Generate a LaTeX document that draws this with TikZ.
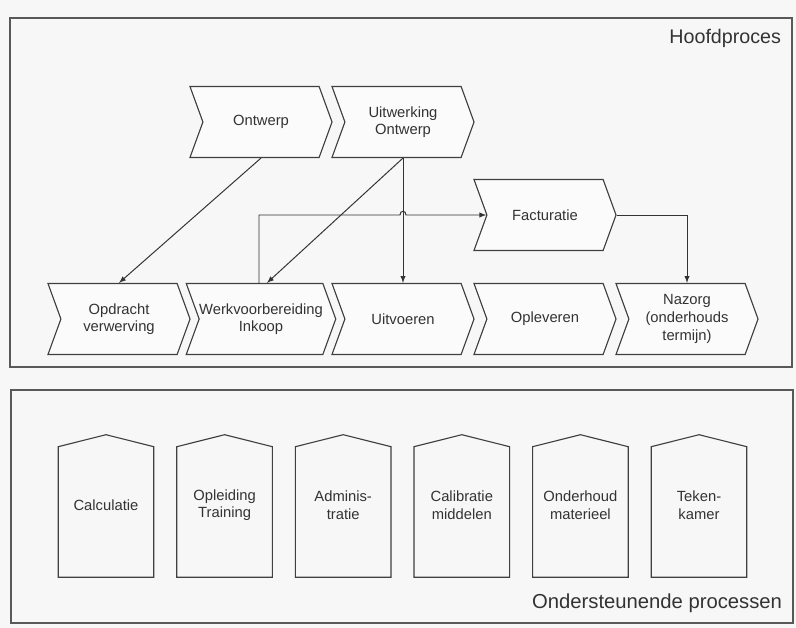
\documentclass[tikz,border=0pt]{standalone}
\usepackage{fontspec}
\setmainfont{Liberation Sans}
\usetikzlibrary{shapes.symbols,arrows,positioning,calc}

\begin{document}
\begin{tikzpicture}[
    x=0.025cm, y=-0.025cm,
    frame/.style={draw=black!65, line width=1.3pt},
    stap/.style={signal, signal from=west, signal to=east, signal pointer angle=140, draw=black!75, fill=gray!3, line width=0.8pt, minimum width=3.55cm, minimum height=1.775cm, inner sep=0pt, align=center, font=\fontsize{10.5}{12.5}\selectfont, text=black!80},
    steun/.style={minimum width=2.375cm, minimum height=2.9cm, inner sep=0pt, align=center, font=\fontsize{10.5}{12.5}\selectfont, text=black!80},
    huis/.style={draw=black!75, line width=0.8pt},
    pijl/.style={-latex, draw=black!80, line width=0.7pt},
    kop/.style={anchor=east, text=black!80}
]
    % Achtergrond en kaders
    \fill[gray!6] (0,0) rectangle (796,628);
    \draw[frame] (10,18) rectangle (792,367);
    \draw[frame] (11,390) rectangle (793,623);
    \node[kop, font=\fontsize{14}{16}\selectfont] (hoofd) at (786,38) {Hoofdproces};
    \node[kop, font=\fontsize{14.4}{16}\selectfont] (onder) at (787,603) {Ondersteunende processen};

    % Hoofdproces: bovenste rij
    \node[stap] (ontwerp) at (261,122) {Ontwerp};
    \node[stap] (uitwerking) at (403,122) {Uitwerking\\Ontwerp};
    \node[stap] (factuur) at (545,215) {Facturatie};

    % Hoofdproces: onderste rij
    \node[stap] (opdracht) at (119,319) {Opdracht\\verwerving};
    \node[stap] (werkvb) at (261,319) {Werkvoorbereiding\\Inkoop};
    \node[stap] (uitvoeren) at (403,319) {Uitvoeren};
    \node[stap] (opleveren) at (545,319) {Opleveren};
    \node[stap] (nazorg) at (687,319) {Nazorg\\(onderhouds\\termijn)};

    % Ondersteunende processen
    \foreach \nm/\tekst [count=\i from 0] in {calc/Calculatie, opleiding/{Opleiding\\Training}, admin/{Adminis-\\tratie}, calib/{Calibratie\\middelen}, onderhoud/{Onderhoud\\materieel}, teken/{Teken-\\kamer}} {
        \node[steun] (\nm) at (106+118.6*\i,505) {\tekst};
        \draw[huis] ($(\nm.south west)+(0,14)$) -- (\nm.north west) -- ($(\nm.north)+(0,-12)$)
            -- (\nm.north east) -- ($(\nm.south east)+(0,14)$) -- cycle;
    }

    % Verbindingen
    \draw[pijl] (ontwerp.south) -- (opdracht.north);
    \draw[pijl] (uitwerking.south) -- ($(werkvb.north)+(6,0)$);
    \draw[pijl] (uitwerking.south) -- (uitvoeren.north);
    \draw[pijl] ($(werkvb.north)+(-2,0)$) |- (400,215)
        .. controls (400,210) and (406,210) .. (406,215) -- (factuur.west);
    \draw[pijl] (factuur.east) -| (nazorg.north);
\end{tikzpicture}
\end{document}
